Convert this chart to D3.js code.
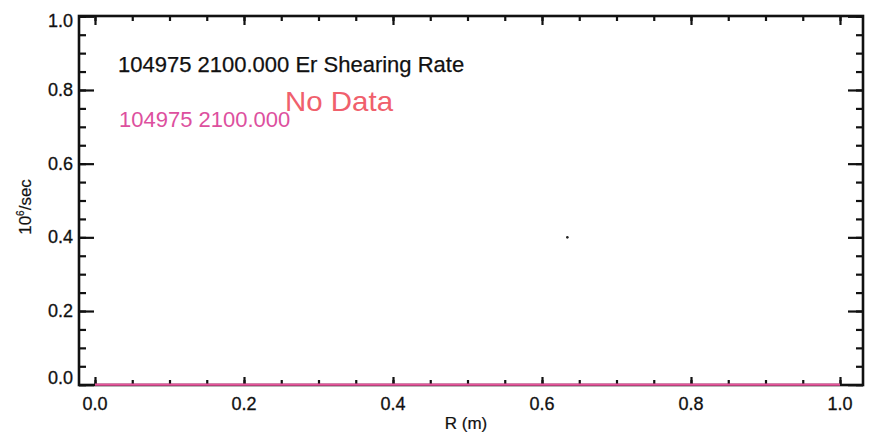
<!DOCTYPE html>
<html>
<head>
<meta charset="utf-8">
<script src="https://cdn.jsdelivr.net/npm/d3@7"></script>
<style>
  html, body { margin: 0; padding: 0; background: #fff; }
  svg { display: block; }
  text { font-family: "Liberation Sans", Arial, Helvetica, sans-serif; }
</style>
</head>
<body>
<svg id="chart" width="878" height="441"></svg>
<script>
// Er shearing rate profile for shot 104975 at t = 2100.000 ms
const shot = "104975";
const time = "2100.000";
const rGrid = [0.0, 0.1, 0.2, 0.3, 0.4, 0.5, 0.6, 0.7, 0.8, 0.9, 1.0];   // R (m)
const shearRate = [0, 0, 0, 0, 0, 0, 0, 0, 0, 0, 0];                  // 10^6/sec
const markR = [0.634];
const markV = [0.4];
const xMajorTicks = [0.0, 0.2, 0.4, 0.6, 0.8, 1.0];
const yMajorTicks = [0.0, 0.2, 0.4, 0.6, 0.8, 1.0];
const xMinorTicks = d3.range(0, 1.0001, 0.05);
const yMinorTicks = d3.range(0, 1.0001, 0.05);

const svg = d3.select("#chart");
const frame = { left: 79, right: 863, top: 16, bottom: 385 };

const x = d3.scaleLinear().domain([0, 1]).range([95, 840]);
const y = d3.scaleLinear().domain([0, 1]).range([384.7, 16.3]);

const fmt = d3.format(".1f");
const ink = "#111";

// Bottom axis (ticks inward)
const axisB = svg.append("g").attr("transform", `translate(0,${frame.bottom})`);
axisB.call(d3.axisTop(x).tickValues(xMinorTicks).tickSize(5).tickFormat(""));
axisB.append("g").call(d3.axisTop(x).tickValues(xMajorTicks).tickSize(8).tickFormat(""));

// Top axis (ticks inward)
const axisT = svg.append("g").attr("transform", `translate(0,${frame.top})`);
axisT.call(d3.axisBottom(x).tickValues(xMinorTicks).tickSize(5).tickFormat(""));
axisT.append("g").call(d3.axisBottom(x).tickValues(xMajorTicks).tickSize(9).tickFormat(""));

// Left axis
const axisL = svg.append("g").attr("transform", `translate(${frame.left},0)`);
axisL.call(d3.axisRight(y).tickValues(yMinorTicks).tickSize(7).tickFormat(""));
axisL.append("g").call(d3.axisRight(y).tickValues(yMajorTicks).tickSize(15).tickFormat(""));

// Right axis
const axisR = svg.append("g").attr("transform", `translate(${frame.right},0)`);
axisR.call(d3.axisLeft(y).tickValues(yMinorTicks).tickSize(7).tickFormat(""));
axisR.append("g").call(d3.axisLeft(y).tickValues(yMajorTicks).tickSize(15).tickFormat(""));

svg.selectAll("path.domain").remove();
svg.selectAll(".tick line").attr("stroke", ink).attr("stroke-width", 2.2);

// Plot frame
svg.append("rect")
  .attr("x", frame.left).attr("y", frame.top)
  .attr("width", frame.right - frame.left).attr("height", frame.bottom - frame.top)
  .attr("fill", "none").attr("stroke", ink).attr("stroke-width", 2.6);

// Tick labels
svg.append("g").selectAll("text").data(xMajorTicks).join("text")
  .attr("x", d => x(d)).attr("y", 410)
  .attr("text-anchor", "middle").attr("font-size", 18).attr("fill", ink)
  .attr("stroke", ink).attr("stroke-width", 0.3)
  .text(fmt);

svg.append("g").selectAll("text").data(yMajorTicks).join("text")
  .attr("x", 73)
  .attr("y", d => y(d) + 6 + (d === 1 ? 5 : d === 0 ? -7 : 0))
  .attr("text-anchor", "end").attr("font-size", 18).attr("fill", ink)
  .attr("stroke", ink).attr("stroke-width", 0.3)
  .text(fmt);

// Axis titles
svg.append("text")
  .attr("x", 466).attr("y", 429)
  .attr("text-anchor", "middle").attr("font-size", 17).attr("fill", ink)
  .attr("stroke", ink).attr("stroke-width", 0.2)
  .text("R (m)");

const yt = svg.append("text")
  .attr("transform", "translate(31,207) rotate(-90)")
  .attr("text-anchor", "middle").attr("font-size", 17).attr("fill", ink)
  .attr("stroke", ink).attr("stroke-width", 0.2);
yt.append("tspan").text("10");
yt.append("tspan").attr("font-size", 10).attr("dy", -7).text("6");
yt.append("tspan").attr("dy", 7).text("/sec");

// Profile line
const line = d3.line().x((d, i) => x(rGrid[i])).y(d => y(d));
svg.append("path")
  .datum(shearRate)
  .attr("d", line)
  .attr("fill", "none").attr("stroke", "#e8559c").attr("stroke-width", 2.2);

svg.append("g").selectAll("circle").data(markR).join("circle")
  .attr("cx", d => x(d)).attr("cy", (d, i) => y(markV[i]))
  .attr("r", 1.3).attr("fill", "#222");

// Legend texts
svg.append("text")
  .attr("x", 118).attr("y", 72)
  .attr("font-size", 22).attr("fill", ink)
  .attr("stroke", ink).attr("stroke-width", 0.25)
  .text(`${shot} ${time} Er Shearing Rate`);

svg.append("text")
  .attr("x", 119).attr("y", 127)
  .attr("font-size", 22).attr("fill", "#dd509e")
  .text(`${shot} ${time}`);

svg.append("text")
  .attr("x", 285).attr("y", 111)
  .attr("font-family", "'DejaVu Sans', sans-serif")
  .attr("font-size", 28).attr("fill", "#f0606c")
  .attr("textLength", 108).attr("lengthAdjust", "spacingAndGlyphs")
  .text("No Data");
</script>
</body>
</html>
